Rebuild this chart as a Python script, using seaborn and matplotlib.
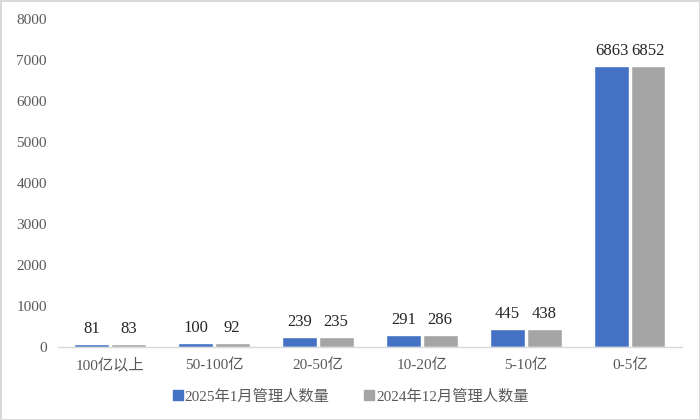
import pandas as pd
import matplotlib.pyplot as plt
import seaborn as sns

# Data
categories = ['100亿以上', '50-100亿', '20-50亿', '10-20亿', '5-10亿', '0-5亿']
series_names = ['2025年1月管理人数量', '2024年12月管理人数量']
jan_2025 = [81, 100, 239, 291, 445, 6863]
dec_2024 = [83, 92, 235, 286, 438, 6852]

df = pd.DataFrame({
    'category': categories * 2,
    'series': [series_names[0]] * len(categories) + [series_names[1]] * len(categories),
    'value': jan_2025 + dec_2024,
})

sns.set_theme(style='white')
plt.rcParams['font.family'] = ['Liberation Serif', 'Noto Sans CJK SC']
text_color = '#595959'

fig = plt.figure(figsize=(7, 4.2), dpi=100)
fig.patch.set_edgecolor('#d9d9d9')
fig.patch.set_linewidth(2)
ax = fig.add_axes([0.083, 0.174, 0.891, 0.781])

palette = {series_names[0]: '#4472C4', series_names[1]: '#A5A5A5'}
sns.barplot(data=df, x='category', y='value', hue='series', palette=palette,
            width=0.7, gap=0.04, saturation=1, ax=ax, legend=False)

for container in ax.containers:
    ax.bar_label(container, fmt='%d', padding=5, fontsize=12, color='#262626')

ax.set_ylim(0, 8000)
ax.set_yticks(range(0, 8001, 1000))
ax.set_xlabel('')
ax.set_ylabel('')
ax.tick_params(axis='both', length=0, labelsize=11, labelcolor=text_color, pad=8)
sns.despine(ax=ax, left=True, top=True, right=True)
ax.spines['bottom'].set_color('#d9d9d9')
ax.spines['bottom'].set_linewidth(1)

# Legend with square markers
handles = [plt.Line2D([], [], marker='s', linestyle='', markersize=7,
                      color=palette[name]) for name in series_names]
fig.legend(handles, series_names, loc='center', bbox_to_anchor=(0.5, 0.056),
           ncol=2, frameon=False, fontsize=11, labelcolor=text_color,
           handletextpad=0.05, columnspacing=2.2, handlelength=0.8)

fig.savefig('out.png', dpi=100)
